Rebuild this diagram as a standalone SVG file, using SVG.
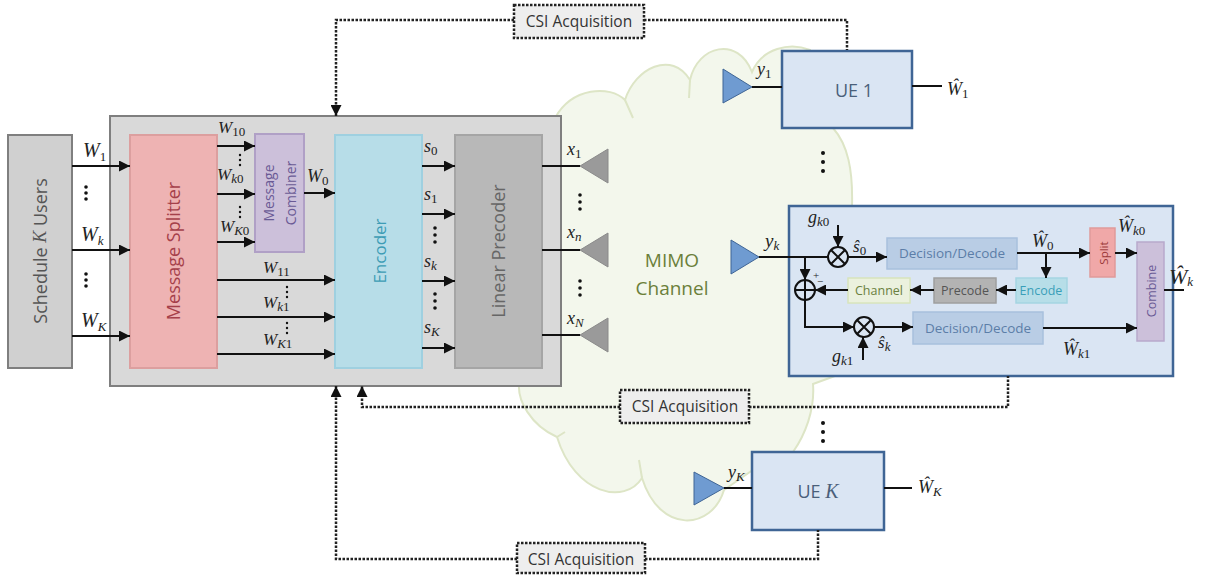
<svg xmlns="http://www.w3.org/2000/svg" width="1205" height="575" viewBox="0 0 1205 575">
<style>
.t{font-family:"Open Sans","Noto Sans",sans-serif;text-anchor:middle;dominant-baseline:central}
.m{font-family:"Liberation Serif",serif;font-style:italic;font-size:20px;fill:#222}
.m tspan{font-size:13px;font-style:italic}
.m tspan.n{font-style:normal}
.c line,.c path,.c circle{fill:none;stroke:#111}
.w{stroke-width:2}
.c path.d{stroke-width:2.500;stroke-dasharray:2.500 1.500;fill:none;stroke:#222}
.a{marker-end:url(#ah)}
.b{stroke-width:2}
.dots{fill:#111}
.csi{fill:#eeeeee;stroke:#222;stroke-width:2.500;stroke-dasharray:2.500 1.500}
</style>
<defs>
<marker id="ah" markerUnits="userSpaceOnUse" markerWidth="12" markerHeight="11" refX="11" refY="5.500" orient="auto"><path d="M0 0L11 5.500L0 11z" fill="#111"/></marker>
</defs>
<g id="cloud">
<path d="M540 250L555 118C572 87 610 85 625 100C635 68 672 50 690 80C698 45 738 36 752 72C762 48 790 42 810 50L833 128C848 145 853 170 852 206L835 376L813 384C815 410 805 435 793 452L760 465L724 490C712 530 660 535 642 478C625 505 575 495 557 437C530 425 518 400 519 385z" fill="#f3f7ec" stroke="#dde5c6" stroke-width="2"/>
<path d="M625 100L633 118M690 80L689 98M639 460L642 478M557 437L565 432" fill="none" stroke="#dde5c6" stroke-width="2"/>
<text class="t" x="672" y="260" font-size="19" fill="#6b7f3a">MIMO</text>
<text class="t" x="672" y="288" font-size="19" fill="#6b7f3a">Channel</text>
</g>
<g id="schedule"><rect x="8" y="135" width="64" height="233" fill="#d0d0d0" stroke="#7f7f7f" stroke-width="2"/>
<text class="t" transform="rotate(-90 40 251)" x="40" y="251" font-size="18" fill="#555">Schedule <tspan font-family="Liberation Serif" font-style="italic">K</tspan> Users</text></g>
<g id="transmitter"><rect x="110" y="116" width="451" height="270" fill="#d9d9d9" stroke="#7f7f7f" stroke-width="2"/></g>
<g id="splitter"><rect x="130" y="135" width="87" height="233" fill="#eeb3b3" stroke="#dc9f9f" stroke-width="2"/>
<text class="t" transform="rotate(-90 173 251)" x="173" y="251" font-size="18" fill="#a5404a">Message Splitter</text></g>
<g id="combiner"><rect x="255" y="134" width="49" height="118" fill="#ccc0da" stroke="#b0a0c6" stroke-width="2"/>
<text class="t" transform="rotate(-90 279 193)" x="279" y="182" font-size="14" fill="#6a5a95">Message</text>
<text class="t" transform="rotate(-90 279 193)" x="279" y="204" font-size="14" fill="#6a5a95">Combiner</text></g>
<g id="encoder"><rect x="335" y="135" width="87" height="233" fill="#b7dde8" stroke="#9fd0e0" stroke-width="2"/>
<text class="t" transform="rotate(-90 379 251)" x="379" y="251" font-size="17" fill="#3d9cb5">Encoder</text></g>
<g id="precoder"><rect x="455" y="135" width="87" height="233" fill="#b8b8b8" stroke="#a5a5a5" stroke-width="2"/>
<text class="t" transform="rotate(-90 498 251)" x="498" y="251" font-size="18" fill="#666">Linear Precoder</text></g>
<g id="tx-antennas" fill="#9a9a9a" stroke="#8a8a8a">
<path d="M580 166L608 149V183z"/><path d="M580 250L608 233V267z"/><path d="M580 335L608 318V352z"/></g>
<g id="ue1"><rect x="782" y="51" width="130" height="77" fill="#dae5f3" stroke="#3f6595" stroke-width="2.500"/>
<text class="t" x="854" y="90" font-size="18" fill="#4a5f7a">UE 1</text>
<path d="M723 69L752 87L723 103z" fill="#6f9bd1" stroke="#3f6595"/></g>
<g id="uek"><rect x="789" y="206" width="384" height="170" fill="#dae5f3" stroke="#3f6595" stroke-width="2.500"/>
<path d="M731 240L759 257L731 274z" fill="#6f9bd1" stroke="#3f6595"/></g>
<g id="ueK"><rect x="752" y="452" width="132" height="78" fill="#dae5f3" stroke="#3f6595" stroke-width="2.500"/>
<text class="t" x="818" y="491" font-size="18" fill="#4a5f7a">UE <tspan font-family="Liberation Serif" font-style="italic" font-size="20">K</tspan></text>
<path d="M694 472L724 488L694 505z" fill="#6f9bd1" stroke="#3f6595"/></g>
<g id="decode1"><rect x="887" y="238" width="130" height="31" fill="#b9cde5" stroke="#a8c0dd" stroke-width="1.500"/><text class="t" x="952" y="253" font-size="13.500" fill="#5c7ea8">Decision/Decode</text></g>
<g id="decode2"><rect x="913" y="312" width="130" height="32" fill="#b9cde5" stroke="#a8c0dd" stroke-width="1.500"/><text class="t" x="978" y="328" font-size="13.500" fill="#5c7ea8">Decision/Decode</text></g>
<g id="split"><rect x="1090" y="228" width="25" height="49" fill="#f0a8a8" stroke="#e09a9a" stroke-width="1.500"/><text class="t" transform="rotate(-90 1103 253)" x="1103" y="253" font-size="11.500" fill="#9b3a3a">Split</text></g>
<g id="combine"><rect x="1137" y="242" width="27" height="99" fill="#ccc0da" stroke="#b8a9cc" stroke-width="1.500"/><text class="t" transform="rotate(-90 1151 291)" x="1151" y="291" font-size="12.500" fill="#6a5a95">Combine</text></g>
<g id="encode"><rect x="1016" y="278" width="51" height="25" fill="#b7dee8" stroke="#a5d5e2" stroke-width="1.500"/><text class="t" x="1041" y="290" font-size="12.500" fill="#3a9fb8">Encode</text></g>
<g id="precode"><rect x="934" y="278" width="62" height="25" fill="#b3b3b3" stroke="#9f9f9f" stroke-width="1.500"/><text class="t" x="965" y="290" font-size="12.500" fill="#555">Precode</text></g>
<g id="channel"><rect x="848" y="278" width="62" height="25" fill="#ebf1de" stroke="#d8e4bc" stroke-width="1.500"/><text class="t" x="879" y="290" font-size="12.500" fill="#6a8040">Channel</text></g>
<g id="connectors" class="c">
<line class="w a" x1="72" y1="166" x2="130" y2="166"/><line class="w a" x1="72" y1="250" x2="130" y2="250"/><line class="w a" x1="72" y1="336" x2="130" y2="336"/>
<line class="w a" x1="217" y1="146" x2="255" y2="146"/><line class="w a" x1="217" y1="194" x2="255" y2="194"/><line class="w a" x1="217" y1="242" x2="255" y2="242"/>
<line class="w a" x1="217" y1="280" x2="335" y2="280"/><line class="w a" x1="217" y1="317" x2="335" y2="317"/><line class="w a" x1="217" y1="354" x2="335" y2="354"/>
<line class="w a" x1="304" y1="193" x2="335" y2="193"/>
<line class="w a" x1="422" y1="166" x2="455" y2="166"/><line class="w a" x1="422" y1="214" x2="455" y2="214"/><line class="w a" x1="422" y1="281" x2="455" y2="281"/><line class="w a" x1="422" y1="348" x2="455" y2="348"/>
<line class="w" x1="542" y1="166" x2="580" y2="166"/><line class="w" x1="542" y1="250" x2="580" y2="250"/><line class="w" x1="542" y1="335" x2="580" y2="335"/>
<line class="w" x1="752" y1="87" x2="782" y2="87"/><line class="w" x1="912" y1="86" x2="942" y2="86"/>
<line class="w" x1="724" y1="488" x2="752" y2="488"/><line class="w" x1="884" y1="488" x2="912" y2="488"/>
<line class="w" x1="759" y1="257" x2="828" y2="257"/>
<line class="w a" x1="848" y1="257" x2="887" y2="257"/>
<line class="w a" x1="838" y1="225" x2="838" y2="247"/>
<line class="w a" x1="863" y1="360" x2="863" y2="337"/>
<line class="w a" x1="805" y1="257" x2="805" y2="280"/>
<path class="w a" d="M805 300V327H854"/>
<line class="w a" x1="874" y1="327" x2="913" y2="327"/>
<line class="w a" x1="1017" y1="253" x2="1090" y2="253"/>
<line class="w a" x1="1046" y1="253" x2="1046" y2="278"/>
<line class="w a" x1="1016" y1="290" x2="996" y2="290"/>
<line class="w a" x1="934" y1="290" x2="910" y2="290"/>
<line class="w a" x1="848" y1="290" x2="815" y2="290"/>
<line class="w a" x1="1115" y1="253" x2="1137" y2="253"/>
<line class="w a" x1="1043" y1="328" x2="1137" y2="328"/>
<line class="w" x1="1164" y1="290" x2="1184" y2="290"/>
<circle class="b" cx="838" cy="257" r="10"/><path class="b" d="M831 250L845 264M845 250L831 264"/>
<circle class="b" cx="864" cy="327" r="10"/><path class="b" d="M857 320L871 334M871 320L857 334"/>
<circle class="b" cx="805" cy="290" r="10"/><path class="b" d="M795 290H815M805 280V300"/>
<path class="d a" d="M514 20H336V116"/>
<path class="d" d="M644 20H847V50"/>
<path class="d a" d="M620 407H362V386"/>
<path class="d" d="M749 407H1008V376"/>
<path class="d a" d="M517 559H336V386"/>
<path class="d" d="M645 559H818V530"/>
</g>
<g id="csi-top"><rect class="csi" x="514" y="5" width="130" height="33"/><text class="t" x="579" y="21" font-size="15.500" fill="#333">CSI Acquisition</text></g>
<g id="csi-mid"><rect class="csi" x="620" y="390" width="129" height="33"/><text class="t" x="685" y="406" font-size="15.500" fill="#333">CSI Acquisition</text></g>
<g id="csi-bottom"><rect class="csi" x="517" y="543" width="128" height="30"/><text class="t" x="581" y="559" font-size="15.500" fill="#333">CSI Acquisition</text></g>
<g id="labels">
<text class="m" x="83" y="157">W<tspan class="n" dy="4">1</tspan></text>
<text class="m" x="81" y="241">W<tspan dy="4">k</tspan></text>
<text class="m" x="81" y="327">W<tspan dy="4">K</tspan></text>
<text class="m" x="218" y="133" style="font-size:17px">W<tspan class="n" dy="3">10</tspan></text>
<text class="m" x="217" y="180" style="font-size:17px">W<tspan dy="3">k</tspan><tspan class="n">0</tspan></text>
<text class="m" x="220" y="232" style="font-size:17px">W<tspan dy="3">K</tspan><tspan class="n">0</tspan></text>
<text class="m" x="263" y="273" style="font-size:17px">W<tspan class="n" dy="3">11</tspan></text>
<text class="m" x="263" y="308" style="font-size:17px">W<tspan dy="3">k</tspan><tspan class="n">1</tspan></text>
<text class="m" x="263" y="345" style="font-size:17px">W<tspan dy="3">K</tspan><tspan class="n">1</tspan></text>
<text class="m" x="307" y="182" style="font-size:18px">W<tspan class="n" dy="3">0</tspan></text>
<text class="m" x="424" y="152" style="font-size:18px">s<tspan class="n" dy="3">0</tspan></text>
<text class="m" x="424" y="200" style="font-size:18px">s<tspan class="n" dy="3">1</tspan></text>
<text class="m" x="424" y="267" style="font-size:18px">s<tspan dy="3">k</tspan></text>
<text class="m" x="424" y="333" style="font-size:18px">s<tspan dy="3">K</tspan></text>
<text class="m" x="567" y="155" style="font-size:18px">x<tspan class="n" dy="3">1</tspan></text>
<text class="m" x="567" y="238" style="font-size:18px">x<tspan dy="3">n</tspan></text>
<text class="m" x="567" y="324" style="font-size:18px">x<tspan dy="3">N</tspan></text>
<text class="m" x="757" y="75" style="font-size:18px">y<tspan class="n" dy="3">1</tspan></text>
<text class="m" x="765" y="247" style="font-size:19px">y<tspan dy="3">k</tspan></text>
<text class="m" x="728" y="478" style="font-size:18px">y<tspan dy="3">K</tspan></text>
<text class="m" x="808" y="223" style="font-size:18px">g<tspan dy="3">k</tspan><tspan class="n">0</tspan></text>
<text class="m" x="832" y="362" style="font-size:18px">g<tspan dy="3">k</tspan><tspan class="n">1</tspan></text>
<text class="m" x="853" y="252" style="font-size:17px">ŝ<tspan class="n" dy="3">0</tspan></text>
<text class="m" x="878" y="348" style="font-size:17px">ŝ<tspan dy="3">k</tspan></text>
<text class="m" x="1032" y="247" style="font-size:18px">Ŵ<tspan class="n" dy="3">0</tspan></text>
<text class="m" x="1118" y="232" style="font-size:18px">Ŵ<tspan dy="3">k</tspan><tspan class="n">0</tspan></text>
<text class="m" x="1063" y="355" style="font-size:18px">Ŵ<tspan dy="3">k</tspan><tspan class="n">1</tspan></text>
<text class="m" x="1169" y="284" style="font-size:22px">Ŵ<tspan dy="2">k</tspan></text>
<text class="m" x="947" y="95" style="font-size:18px">Ŵ<tspan class="n" dy="3">1</tspan></text>
<text class="m" x="918" y="493" style="font-size:18px">Ŵ<tspan dy="3">K</tspan></text>
<text class="m" x="813" y="279" style="font-size:11px;font-style:normal">+</text>
<text class="m" x="817" y="285" style="font-size:11px;font-style:normal">−</text>
</g>
<g id="ellipses" class="dots">
<circle cx="86" cy="187" r="1.800"/><circle cx="86" cy="193" r="1.800"/><circle cx="86" cy="199" r="1.800"/>
<circle cx="86" cy="274" r="1.800"/><circle cx="86" cy="280" r="1.800"/><circle cx="86" cy="286" r="1.800"/>
<circle cx="240" cy="155" r="1.200"/><circle cx="240" cy="160" r="1.200"/><circle cx="240" cy="165" r="1.200"/>
<circle cx="240" cy="207" r="1.200"/><circle cx="240" cy="212" r="1.200"/><circle cx="240" cy="217" r="1.200"/>
<circle cx="287" cy="287" r="1.200"/><circle cx="287" cy="292" r="1.200"/><circle cx="287" cy="297" r="1.200"/>
<circle cx="287" cy="323" r="1.200"/><circle cx="287" cy="328" r="1.200"/><circle cx="287" cy="333" r="1.200"/>
<circle cx="435" cy="228" r="1.800"/><circle cx="435" cy="235" r="1.800"/><circle cx="435" cy="242" r="1.800"/>
<circle cx="435" cy="294" r="1.800"/><circle cx="435" cy="301" r="1.800"/><circle cx="435" cy="308" r="1.800"/>
<circle cx="580" cy="195" r="1.800"/><circle cx="580" cy="202" r="1.800"/><circle cx="580" cy="209" r="1.800"/>
<circle cx="580" cy="281" r="1.800"/><circle cx="580" cy="288" r="1.800"/><circle cx="580" cy="295" r="1.800"/>
<circle cx="823" cy="153" r="2"/><circle cx="823" cy="162" r="2"/><circle cx="823" cy="171" r="2"/>
<circle cx="823" cy="423" r="2"/><circle cx="823" cy="432" r="2"/><circle cx="823" cy="441" r="2"/>
</g>
</svg>
